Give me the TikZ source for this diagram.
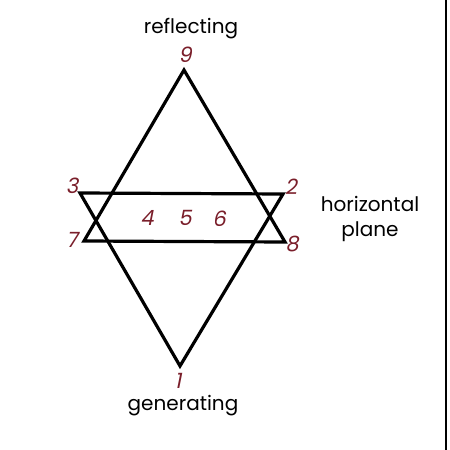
\documentclass[tikz,border=0pt]{standalone}
\usepackage{fontspec}
\setmainfont{Poppins}
\newfontfamily\numfont[FakeSlant=0.2]{Poppins}
\usepackage{tikz}
\usetikzlibrary{positioning}
\definecolor{numred}{RGB}{122,30,42}
\tikzset{
  vertexnum/.style={text=numred, font=\numfont\fontsize{21}{21}\selectfont, inner sep=1pt},
  caption/.style={font=\fontsize{20}{25}\selectfont, align=center, inner sep=1pt},
  edge/.style={line width=3.2pt, line join=miter}
}
\begin{document}
\begin{tikzpicture}[x=1pt, y=-1pt]
  % --- Frame ---
  \useasboundingbox (0,0) rectangle (450,450);
  \fill[white] (0,0) rectangle (450,450);
  \coordinate (rtop) at (446,0);
  \coordinate (rbot) at (446,450);
  \draw[line width=2.2pt] (rtop) -- (rbot);

  % --- 1. Vertices ---
  \coordinate (p9) at (184, 70);  % top (reflecting)
  \coordinate (p1) at (180,366);  % bottom (generating)
  \coordinate (p3) at (80,193);   % upper left
  \coordinate (p2) at (283,194);  % upper right
  \coordinate (p7) at (84,241);   % lower left
  \coordinate (p8) at (285,242);  % lower right

  % --- 2. The two triangles ---
  \draw[edge] (p9) -- (p7) -- (p8) -- cycle;
  \draw[edge] (p1) -- (p3) -- (p2) -- cycle;

  % --- 3. Vertex numbers ---
  \node[vertexnum] (n9) at (185,55) {9};
  \node[vertexnum] (n1) at (178,381) {1};
  \node[vertexnum] (n3) at (72,186) {3};
  \node[vertexnum] (n2) at (291,187) {2};
  \node[vertexnum] (n7) at (72,240) {7};
  \node[vertexnum] (n8) at (292,244) {8};
  \node[vertexnum] (n4) at (147,218) {4};
  \node[vertexnum] (n5) at (185,218) {5};
  \node[vertexnum] (n6) at (219,219) {6};

  % --- 4. Captions ---
  \node[caption] (refl) at (191,29) {reflecting};
  \node[caption] (gen) at (183,406) {generating};
  \node[caption] (horiz) at (370,219) {horizontal\\plane};
\end{tikzpicture}
\end{document}
